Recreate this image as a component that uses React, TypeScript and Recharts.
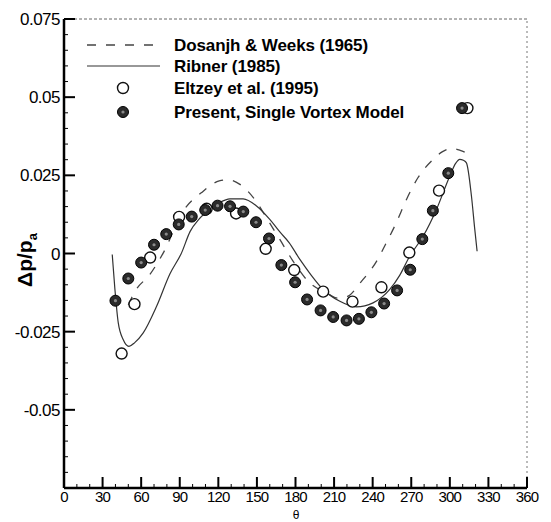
import React from 'react';
import { ComposedChart, Line, Scatter, XAxis, YAxis, ReferenceLine } from 'recharts';

// Dosanjh & Weeks (1965) — dashed curve
const dosanjhTheta = [50, 55.2, 66.8, 77.2, 92.7, 107, 120.7, 128, 136.8, 149.2, 158, 167.8, 178.2, 189.8, 205, 213, 220, 231.3, 243, 251.2, 258, 266.3, 275.3, 287, 294, 301.2, 308, 316.8];
const dosanjhDp = [-0.0165, -0.0121, -0.0067, 0.0002, 0.0136, 0.0195, 0.0232, 0.0236, 0.0221, 0.0168, 0.011, 0.0045, -0.0025, -0.0089, -0.0128, -0.0143, -0.0138, -0.0089, -0.0025, 0.0039, 0.0095, 0.0173, 0.0243, 0.0301, 0.0325, 0.0336, 0.033, 0.0314];

// Ribner (1985) — solid curve
const ribnerTheta = [37.5, 39.6, 42.2, 46, 50.5, 55, 61.6, 72, 82.4, 91.4, 98, 105, 113.4, 121, 129, 139.3, 149.7, 160, 168, 175, 183.4, 192, 201.5, 214.5, 227.4, 240.3, 253.3, 261, 268.8, 279.2, 289.6, 300, 304.5, 307.7, 310.5, 312.9, 316.8, 319.4, 321.2];
const ribnerDp = [-0.0003, -0.0115, -0.0222, -0.0275, -0.0297, -0.0285, -0.0254, -0.0169, -0.0065, 0.0002, 0.007, 0.011, 0.0141, 0.0163, 0.0175, 0.0175, 0.0152, 0.0109, 0.0068, 0.0035, -0.0019, -0.0068, -0.0115, -0.0153, -0.0171, -0.0158, -0.0115, -0.007, -0.0009, 0.0055, 0.0141, 0.0248, 0.0288, 0.0301, 0.0298, 0.029, 0.0184, 0.0077, 0.0007];

// Eltzey et al. (1995) — open circles
const eltzeyTheta = [44.8, 54.8, 67, 89.5, 110.9, 133.8, 156.8, 179, 201.5, 224.3, 246.8, 268.5, 291.6, 313.7];
const eltzeyDp = [-0.032, -0.0162, -0.0013, 0.0117, 0.0143, 0.0128, 0.0015, -0.0053, -0.0122, -0.0154, -0.0108, 0.0003, 0.0201, 0.0465];

// Present, Single Vortex Model — filled circles
const presentTheta = [40, 50, 60, 70, 79.5, 89.2, 99.3, 109.8, 119.4, 129.1, 139.4, 149.3, 159.4, 169, 179.7, 189, 199.5, 209.3, 219.7, 229.3, 239, 248.9, 259, 269.2, 278.6, 286.8, 298.8, 309.5];
const presentDp = [-0.0151, -0.008, -0.0029, 0.0028, 0.0062, 0.0093, 0.0118, 0.0139, 0.0153, 0.0151, 0.0134, 0.01, 0.0048, -0.0037, -0.0092, -0.0147, -0.0182, -0.0203, -0.0214, -0.0209, -0.0188, -0.016, -0.0118, -0.0052, 0.0046, 0.0137, 0.0257, 0.0465];

// Ticks
const xMajor = [0, 30, 60, 90, 120, 150, 180, 210, 240, 270, 300, 330, 360];
const xMinor = [10, 20, 40, 50, 70, 80, 100, 110, 130, 140, 160, 170, 190, 200, 220, 230, 250, 260, 280, 290, 310, 320, 340, 350];
const yMajor = [-0.075, -0.05, -0.025, 0, 0.025, 0.05, 0.075];
const yLabeled = [-0.05, -0.025, 0, 0.025, 0.05, 0.075];
const yMinor = [-0.07, -0.065, -0.06, -0.055, -0.045, -0.04, -0.035, -0.03, -0.02, -0.015, -0.01, -0.005, 0.005, 0.01, 0.015, 0.02, 0.03, 0.035, 0.04, 0.045, 0.055, 0.06, 0.065, 0.07];

const legendLabels = ['Dosanjh & Weeks (1965)', 'Ribner (1985)', 'Eltzey et al. (1995)', 'Present, Single Vortex Model'];

const zip = (xs: number[], ys: number[]) => xs.map((x, i) => ({ x, y: ys[i] }));
const dosanjh = zip(dosanjhTheta, dosanjhDp);
const ribner = zip(ribnerTheta, ribnerDp);
const eltzey = zip(eltzeyTheta, eltzeyDp);
const present = zip(presentTheta, presentDp);

const FONT = "'Liberation Sans', Arial, Helvetica, sans-serif";

const XTick = (props: any) => {
  const { x, y, payload } = props;
  const v = payload.value;
  const major = xMajor.includes(v);
  return (
    <g>
      <line x1={x} x2={x} y1={y} y2={y - (major ? 11 : 4)} stroke="#000" strokeWidth={major ? 2 : 1} />
      {major && (
        <text x={x} y={y + 14} textAnchor="middle" fontSize={15} fontFamily={FONT} letterSpacing={-0.8} fill="#000">
          {v}
        </text>
      )}
    </g>
  );
};

const YTick = (props: any) => {
  const { x, y, payload } = props;
  const v = payload.value;
  const major = yMajor.includes(v);
  const labeled = yLabeled.includes(v);
  return (
    <g>
      <line x1={x} x2={x + (major ? 11 : 4)} y1={y} y2={y} stroke="#000" strokeWidth={major ? 2 : 1} />
      {labeled && (
        <text x={x - 4} y={y + 6} textAnchor="end" fontSize={17} fontFamily={FONT} letterSpacing={-0.5} fill="#000">
          {String(v)}
        </text>
      )}
    </g>
  );
};

const OpenDot = (props: any) => {
  const { cx, cy } = props;
  return <circle cx={cx} cy={cy} r={5.5} fill="#fff" stroke="#111" strokeWidth={1.4} />;
};

const FilledDot = (props: any) => {
  const { cx, cy } = props;
  return (
    <g>
      <circle cx={cx} cy={cy} r={5.5} fill="#2b2b2b" stroke="#000" strokeWidth={1} />
      <circle cx={cx} cy={cy} r={1.6} fill="#8a8a8a" />
    </g>
  );
};

const YLabel = () => (
  <text transform="translate(32,260) rotate(-90)" textAnchor="middle" fontSize={21} fontWeight="bold" fontFamily={FONT} fill="#000">
    Δp/p<tspan fontSize={13} dy={5}>a</tspan>
  </text>
);

const XLabel = () => (
  <text x={296} y={519} textAnchor="middle" fontSize={12} fontFamily={FONT} fill="#000">
    θ
  </text>
);

const rowY = [45, 66, 88, 112];

export default function App() {
  return (
    <div style={{ position: 'absolute', left: 0, top: 0, width: 551, height: 522, background: '#fff' }}>
      <ComposedChart width={551} height={522} margin={{ top: 19, right: 24, bottom: 0, left: 0 }}>
        <XAxis
          type="number"
          dataKey="x"
          domain={[0, 360]}
          ticks={[...xMajor, ...xMinor]}
          interval={0}
          tick={<XTick />}
          tickLine={false}
          tickSize={0}
          tickMargin={0}
          height={34}
          allowDataOverflow
          axisLine={{ stroke: '#000', strokeWidth: 2.5 }}
          label={<XLabel />}
        />
        <YAxis
          type="number"
          dataKey="y"
          domain={[-0.075, 0.075]}
          ticks={[...yMajor, ...yMinor]}
          interval={0}
          tick={<YTick />}
          tickLine={false}
          tickSize={0}
          tickMargin={0}
          width={64}
          allowDataOverflow
          axisLine={{ stroke: '#000', strokeWidth: 2.5 }}
          label={<YLabel />}
        />
        <ReferenceLine y={0.075} stroke="#666" strokeWidth={1} strokeDasharray="3 2" />
        <ReferenceLine x={360} stroke="#777" strokeWidth={1} strokeDasharray="2 3" />
        <Line data={dosanjh} dataKey="y" type="monotone" stroke="#444" strokeWidth={1.3} strokeDasharray="9 10" dot={false} isAnimationActive={false} />
        <Line data={ribner} dataKey="y" type="monotone" stroke="#333" strokeWidth={1.2} dot={false} isAnimationActive={false} />
        <Scatter data={eltzey} dataKey="y" shape={<OpenDot />} isAnimationActive={false} />
        <Scatter data={present} dataKey="y" shape={<FilledDot />} isAnimationActive={false} />
      </ComposedChart>
      <svg width={551} height={522} style={{ position: 'absolute', left: 0, top: 0, pointerEvents: 'none' }}>
        <line x1={87} x2={160} y1={rowY[0]} y2={rowY[0]} stroke="#444" strokeWidth={1.3} strokeDasharray="9 10" />
        <line x1={87} x2={160} y1={rowY[1]} y2={rowY[1]} stroke="#333" strokeWidth={1.2} />
        <OpenDot cx={123} cy={rowY[2]} />
        <FilledDot cx={123} cy={rowY[3]} />
        {legendLabels.map((t, i) => (
          <text key={t} x={174} y={rowY[i] + 6} fontSize={17} fontWeight="bold" fontFamily={FONT} letterSpacing={-0.1} fill="#000">
            {t}
          </text>
        ))}
      </svg>
    </div>
  );
}
